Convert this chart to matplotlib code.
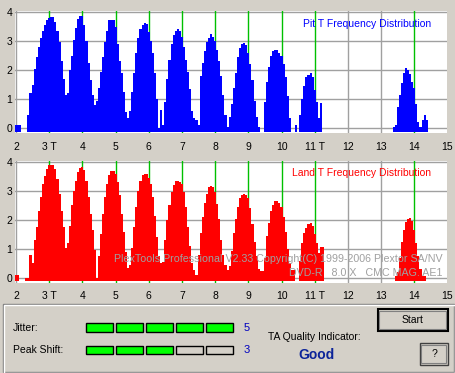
import numpy as np
import matplotlib
matplotlib.use("Agg")
import matplotlib.pyplot as plt
from matplotlib.patches import Rectangle

nan = np.nan

# histogram bins are 1/16 T wide
BIN = 1 / 16
BASE = -0.12  # bars start a little under the zero line

# Pit T frequency (top chart), bins from 2.0 T
pit_start = 2.0
pit_heights = [
    0.1, 0.1, 0.1, nan, nan, nan, 0.46, 1.2, 1.5, 2.05, 2.45, 2.8, 3.1, 3.35, 3.55, 3.72,
    3.78, 3.83, 3.83, 3.65, 3.35, 2.95, 2.3, 1.7, 1.15, 1.2, 2.0, 2.5, 3.05, 3.45, 3.75, 3.87,
    3.85, 3.55, 3.0, 2.25, 1.65, 1.15, 0.8, 0.95, 1.4, 1.95, 2.45, 2.95, 3.35, 3.72, 3.74, 3.72,
    3.5, 2.9, 2.3, 1.9, 1.25, 0.55, 0.35, 0.6, 1.25, 1.9, 2.6, 3.1, 3.4, 3.55, 3.63, 3.6,
    3.3, 3.0, 2.6, 1.9, 1.0, 0.0, 0.63, 0.1, 0.9, 1.7, 2.35, 2.9, 3.2, 3.35, 3.4, 3.35,
    3.15, 2.8, 2.35, 1.95, 1.35, 0.6, 0.35, 0.3, 0.1, 1.8, 2.25, 2.65, 2.95, 3.12, 3.23, 3.15,
    3.0, 2.7, 2.3, 1.8, 1.15, 0.45, 0.05, 0.4, 0.85, 1.4, 1.9, 2.45, 2.75, 2.9, 2.94, 2.85,
    2.6, 2.2, 1.65, 0.95, 0.4, 0.06, nan, nan, 0.9, 1.6, 2.1, 2.5, 2.65, 2.69, 2.69, 2.6,
    2.5, 2.2, 1.75, 1.1, 0.35, nan, nan, 0.1, nan, 0.45, 1.0, 1.45, 1.75, 1.83, 1.89, 1.75,
    1.3, 0.9, 0.35, 0.86,
]
pit14_start = 13.375
pit14_heights = [0.06, 0.1, 0.74, 1.15, 1.55, 1.9, 2.06, 2.0, 1.85, 1.6, 1.37, 0.85,
                 0.2, 0.06, 0.3, 0.46, 0.3]

# Land T frequency (bottom chart)
land_start = 2.0
land_heights = [
    0.1, 0.1, nan, nan, nan, 0.0, 0.0, 0.8, 0.5, 1.3, 1.75, 2.3, 2.8, 3.25, 3.5, 3.75,
    3.88, 3.91, 3.88, 3.75, 3.4, 2.9, 2.3, 1.75, 1.05, 1.2, 1.8, 2.5, 3.0, 3.35, 3.65, 3.8,
    3.82, 3.72, 3.35, 2.8, 2.2, 1.65, 0.95, 0.0, 0.75, 1.5, 2.2, 2.8, 3.25, 3.55, 3.7, 3.7,
    3.6, 3.3, 2.85, 2.2, 1.6, 0.9, 0.35, 0.45, 1.05, 1.75, 2.45, 3.0, 3.35, 3.55, 3.59, 3.57,
    3.45, 3.25, 2.8, 2.15, 1.4, 0.75, 0.5, 0.55, 1.3, 2.0, 2.5, 2.95, 3.2, 3.36, 3.36, 3.32,
    3.25, 2.95, 2.45, 1.75, 1.1, 0.5, 0.28, 0.1, 0.8, 1.55, 2.1, 2.6, 2.9, 3.12, 3.16, 3.14,
    2.95, 2.55, 2.05, 1.3, 0.8, 0.45, 0.28, 0.4, 0.92, 1.55, 2.05, 2.45, 2.76, 2.85, 2.89, 2.85,
    2.76, 2.4, 1.85, 1.25, 0.75, 0.3, 0.23, 0.23, 0.7, 1.45, 1.9, 2.3, 2.53, 2.64, 2.66, 2.6,
    2.45, 2.1, 1.6, 1.0, 0.5, 0.28, 0.28, nan, nan, 0.6, 1.2, 1.55, 1.74, 1.85, 1.89, 1.78,
    1.5, 1.2, 0.85, 1.08, 1.08,
]
land14_start = 13.4375
land14_heights = [0.07, 0.2, 0.7, 1.25, 1.65, 1.94, 2.03, 2.06, 1.95, 1.66, 1.2, 0.75,
                  0.3, 0.07, 0.07]

x_ticks = list(range(2, 16))
x_labels = ["2", "3 T", "4", "5", "6", "7", "8", "9", "10", "11 T", "12", "13", "14", "15"]
y_ticks = [0, 1, 2, 3, 4]
green_marks = [3, 4, 5, 6, 7, 8, 9, 10, 11, 14]

jitter_level = 5
peak_shift_level = 3
n_segments = 5
quality = "Good"
watermark_1 = "PlexTools Professional V2.33 Copyright(C) 1999-2006 Plextor SA/NV"
watermark_2 = "DVD-R   8.0 X   CMC MAG. AE1"

BG = "#d4d0c8"
W, H = 456, 373
plt.rcParams["font.family"] = ["Liberation Sans", "DejaVu Sans"]


def px(x, y):
    """pixel (from top-left) -> figure fraction"""
    return x / W, 1 - y / H


def draw_hist(ax, t0, heights, color):
    # one filled staircase per run of non-empty bins (no seams between bars)
    h = np.array(heights, dtype=float)
    edges = t0 - BIN / 2 + BIN * np.arange(len(h) + 1)
    ok = ~np.isnan(h)
    i = 0
    while i < len(h):
        if not ok[i]:
            i += 1
            continue
        j = i
        while j < len(h) and ok[j]:
            j += 1
        xs = np.repeat(edges[i:j + 1], 2)[1:-1]
        ys = np.repeat(h[i:j], 2)
        ax.fill_between(xs, BASE, ys, color=color, linewidth=0,
                        antialiased=False, zorder=3)
        i = j


def setup_axes(ax):
    ax.set_facecolor("white")
    ax.set_xlim(1.97, 15.0)
    ax.set_ylim(-0.17, 4.03)
    for s in ax.spines.values():
        s.set_visible(False)
    for v in y_ticks:
        ax.axhline(v, color="#a0a0a0", lw=1, zorder=1)
    for t in x_ticks:
        if t in green_marks:
            ax.axvline(t, color="#00c000", lw=1, zorder=2)
        else:
            ax.axvline(t, color="#a0a0a0", lw=1, zorder=1)
    ax.set_xticks(x_ticks)
    ax.set_xticklabels(x_labels)
    ax.set_yticks(y_ticks)
    ax.tick_params(length=0, labelsize=7.5, colors="black")
    ax.tick_params(axis="y", pad=2)


fig = plt.figure(figsize=(W / 100, H / 100), dpi=100, facecolor=BG)

# axes boxes in pixels: left 15, right 447.5
ax_top = fig.add_axes([15 / W, (H - 133.2) / H, 432.5 / W, 122.1 / H])
ax_bot = fig.add_axes([15 / W, (H - 282.9) / H, 432.5 / W, 121.8 / H])

setup_axes(ax_top)
ax_top.tick_params(axis="x", pad=6)
draw_hist(ax_top, pit_start, pit_heights, "#0000ff")
draw_hist(ax_top, pit14_start, pit14_heights, "#0000ff")
ax_top.text(14.5, 3.58, "Pit T Frequency Distribution", color="#0000ff",
            fontsize=7.5, ha="right", va="center", zorder=5)

setup_axes(ax_bot)
ax_bot.tick_params(axis="x", pad=5.5)
draw_hist(ax_bot, land_start, land_heights, "#ff0000")
draw_hist(ax_bot, land14_start, land14_heights, "#ff0000")
ax_bot.text(14.5, 3.63, "Land T Frequency Distribution", color="#ff0000",
            fontsize=7.5, ha="right", va="center", zorder=5)
ax_bot.text(14.86, 0.655, watermark_1, color="#a0a0a0", fontsize=7.7,
            ha="right", va="center", zorder=5)
ax_bot.text(14.86, 0.16, watermark_2, color="#a0a0a0", fontsize=7.7,
            ha="right", va="center", zorder=5)

# bottom panel (etched frame)
x0, y0 = px(3, 372)
x1, y1 = px(454, 304)
fig.add_artist(Rectangle((x0, y0), x1 - x0, y1 - y0, transform=fig.transFigure,
                         fill=False, edgecolor="#808080", lw=1))
x0, y0 = px(4, 373)
x1, y1 = px(455, 305)
fig.add_artist(Rectangle((x0, y0), x1 - x0, y1 - y0, transform=fig.transFigure,
                         fill=False, edgecolor="white", lw=1))

rows = [("Jitter:", jitter_level, 323.3), ("Peak Shift:", peak_shift_level, 345.7)]
for label, level, top in rows:
    fx, fy = px(13, top + 4.3)
    fig.text(fx, fy, label, fontsize=7.5, ha="left", va="center")
    for i in range(n_segments):
        bx, by = px(86 + 30 * i, top + 8.4)
        fill = "#00ff00" if i < level else BG
        fig.add_artist(Rectangle((bx, by), 27.3 / W, 8.4 / H, transform=fig.transFigure,
                                 facecolor=fill, edgecolor="black", lw=1))
    fx, fy = px(244, top + 4.3)
    fig.text(fx, fy, str(level), fontsize=8, color="#0000c0", ha="left", va="center")

fx, fy = px(268.5, 337.3)
fig.text(fx, fy, "TA Quality Indicator:", fontsize=7.5, ha="left", va="center")
fx, fy = px(316.5, 355)
fig.text(fx, fy, quality, fontsize=10, fontweight="bold", color="#0c2499",
         ha="center", va="center")


def button(left, top, right, bottom, label, default=False):
    bx, by = px(left, bottom)
    w, h = (right - left) / W, (bottom - top) / H
    fig.add_artist(Rectangle((bx, by), w, h, transform=fig.transFigure,
                             facecolor=BG, edgecolor="black" if default else "#404040",
                             lw=1.5 if default else 1))
    ix, iy = px(left + 1.5, bottom - 2)
    fig.add_artist(Rectangle((ix, iy), (right - left - 3.5) / W, (bottom - top - 3.5) / H,
                             transform=fig.transFigure, fill=False,
                             edgecolor="#808080", lw=0.8))
    cx, cy = px((left + right) / 2, (top + bottom) / 2)
    fig.text(cx, cy, label, fontsize=7.5, ha="center", va="center")


button(378, 309.3, 448, 331, "Start", default=True)
button(420, 343.3, 448, 365, "?")

fig.savefig("out.png", dpi=100, facecolor=BG)
